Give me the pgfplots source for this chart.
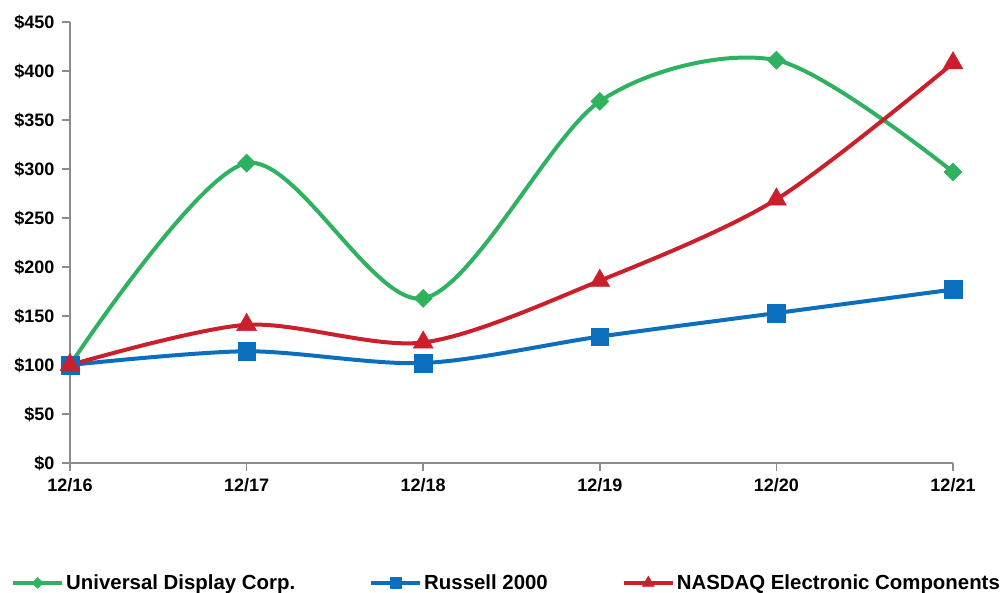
\documentclass[border=0pt]{standalone}
\usepackage{fontspec}
\setmainfont{Liberation Sans}
\usepackage{pgfplots}
\pgfplotsset{compat=1.18}
\definecolor{cgreen}{HTML}{2EB25F}
\definecolor{cblue}{HTML}{0C6FBE}
\definecolor{cred}{HTML}{C9202B}
\definecolor{axgray}{HTML}{8C8C8C}
\begin{document}
\begin{tikzpicture}[x=1pt,y=1pt]
\path[use as bounding box] (0,0) rectangle (1008,593);
\begin{axis}[
  at={(70pt,130pt)}, anchor=south west,
  scale only axis, width=883pt, height=441pt,
  xmin=0, xmax=5, ymin=0, ymax=450,
  axis x line*=bottom, axis y line*=left,
  axis line style={axgray, line width=2pt},
  xtick={0,1,2,3,4,5},
  xticklabels={12/16,12/17,12/18,12/19,12/20,12/21},
  ytick={0,50,100,150,200,250,300,350,400,450},
  yticklabel={\$\pgfmathprintnumber{\tick}},
  /pgf/number format/assume math mode=true,
  tick align=outside, major tick length=8pt,
  tick style={axgray, line width=1.5pt},
  ticklabel style={font=\fontsize{18}{20}\selectfont\bfseries},
  xticklabel style={yshift=-4pt},
  yticklabel style={xshift=-4pt},
  clip=false,
  legend columns=3,
  legend style={at={(-0.0668,-0.272)}, anchor=west, draw=none, fill=none,
    inner sep=0pt, font=\fontsize{20.4}{24}\selectfont\bfseries,
    nodes={inner xsep=0pt, inner ysep=0pt},
    /tikz/every odd column/.append style={column sep=2pt},
    /tikz/every even column/.append style={column sep=74pt}},
  legend image code/.code={\draw[mark repeat=2,mark phase=2,#1,every mark/.append style={scale=0.6}] plot coordinates {(0pt,0pt) (24.5pt,0pt) (49pt,0pt)};},
]
\addplot[cgreen, line width=4pt, smooth, mark=square*, mark size=6.4pt,
  mark options={rotate=45, line width=0.5pt}]
  coordinates {(0,100) (1,306) (2,168) (3,369) (4,411) (5,297)};
\addlegendentry{Universal Display Corp.}
\addplot[cblue, line width=4pt, smooth, mark=square*, mark size=8.8pt,
  mark options={line width=0.5pt}]
  coordinates {(0,100) (1,114) (2,102) (3,129) (4,153) (5,177)};
\addlegendentry{Russell 2000}
\addplot[cred, line width=4pt, smooth, mark=triangle*, mark size=11.5pt,
  mark options={line width=0.5pt}]
  coordinates {(0,100) (1,141) (2,123) (3,186) (4,269) (5,408)};
\addlegendentry{NASDAQ Electronic Components}
\end{axis}
\end{tikzpicture}
\end{document}
